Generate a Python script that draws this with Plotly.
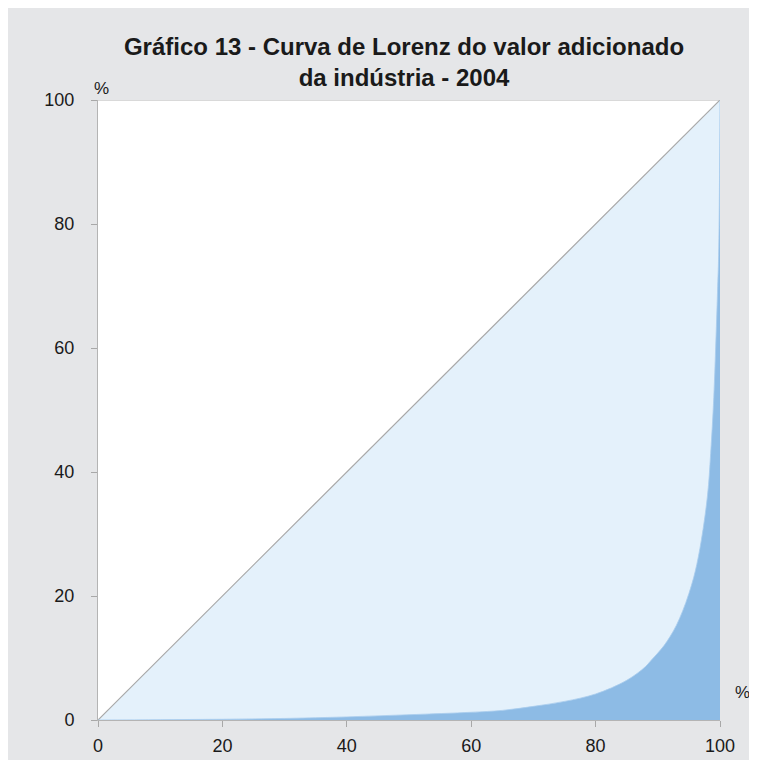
import plotly.graph_objects as go

# Lorenz curve data (cumulative % of units vs cumulative % of value added)
pop_share = [0, 10, 20, 30, 40, 50, 60, 65, 70, 75, 80, 85, 88, 89, 90, 91, 92, 93, 94, 95, 96, 97, 98, 98.5, 99, 99.3, 99.6, 99.8, 100]
value_share = [0, 0.05, 0.12, 0.25, 0.5, 0.85, 1.25, 1.55, 2.2, 3.0, 4.2, 6.4, 8.6, 9.7, 10.8, 12.0, 13.5, 15.3, 17.6, 20.4, 23.9, 29.0, 36.3, 43.0, 52.0, 60.0, 69.0, 76.0, 100]
equality_x = [0, 100]
equality_y = [0, 100]
tick_vals = [0, 20, 40, 60, 80, 100]
tick_text = ["0", "20", "40", "60", "80", "100"]

title_text = "Gráfico 13 - Curva de Lorenz do valor adicionado<br>da indústria - 2004"

GRAY_BG = "#e5e6e8"
LIGHT_BLUE = "#e4f1fb"
DARK_BLUE = "#8dbbe5"
LINE_GRAY = "#a8a8a8"
FONT = "Liberation Sans, Arial, sans-serif"

fig = go.Figure()
fig.add_trace(go.Scatter(x=equality_x, y=equality_y, mode="lines", fill="tozeroy",
                         fillcolor=LIGHT_BLUE, line=dict(color=LINE_GRAY, width=1.2),
                         hoverinfo="skip", showlegend=False))
fig.add_trace(go.Scatter(x=pop_share, y=value_share, mode="lines", fill="tozeroy",
                         fillcolor=DARK_BLUE, line=dict(color="#a9cdee", width=0.8, shape="spline"),
                         hoverinfo="skip", showlegend=False))

axis_common = dict(range=[0, 100], tickvals=tick_vals, ticktext=tick_text, showgrid=False,
                   zeroline=False, showline=True, linecolor="#b4b4b4", linewidth=1,
                   ticks="outside", ticklen=6, tickcolor="#a8a8a8", tickwidth=1,
                   tickfont=dict(family=FONT, size=18, color="#1a1a1a"), fixedrange=True)

fig.update_layout(
    width=757, height=760,
    margin=dict(l=90, r=45, t=92, b=48),
    paper_bgcolor=GRAY_BG, plot_bgcolor="white",
    xaxis=dict(**axis_common, ticklabelstandoff=3),
    yaxis=dict(**axis_common, ticklabelstandoff=13),
    title=dict(text=title_text, x=396 / 757, xanchor="center", y=1 - 47 / 760, yanchor="top",
               yref="container", xref="container",
               font=dict(family="Liberation Sans Narrow, Arial Narrow, Liberation Sans, sans-serif",
                         size=24, color="#1a1a1a", weight="bold")),
    shapes=[
        dict(type="line", xref="x", yref="y", x0=0, x1=100, y0=100, y1=100,
             line=dict(color="#b4b4b4", width=1), layer="above"),
    ],
    annotations=[
        dict(text="%", xref="paper", yref="paper", x=3 / 622, y=1 + 12 / 620, xanchor="center",
             yanchor="middle", showarrow=False, font=dict(family=FONT, size=17, color="#1a1a1a")),
        dict(text="%", xref="paper", yref="paper", x=1 + 22 / 622, y=28 / 620, xanchor="center",
             yanchor="middle", showarrow=False, font=dict(family=FONT, size=17, color="#1a1a1a")),
    ],
)

fig.write_html("out.html")
